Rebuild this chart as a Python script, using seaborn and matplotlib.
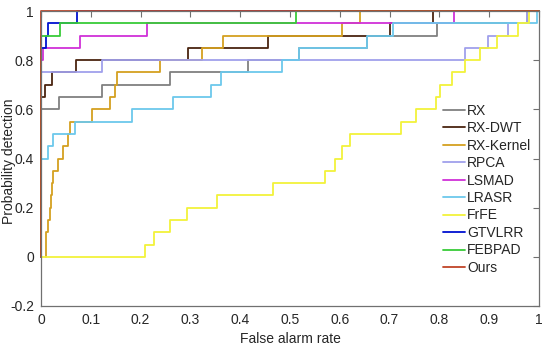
import matplotlib
matplotlib.use("Agg")
import matplotlib.pyplot as plt
import seaborn as sns

sns.set_style("white")
plt.rcParams['font.family'] = ['Liberation Sans', 'DejaVu Sans']

# ROC step curves: x = false alarm rate where each detection level starts
methods = ["RX", "RX-DWT", "RX-Kernel", "RPCA", "LSMAD", "LRASR", "FrFE", "GTVLRR", "FEBPAD", "Ours"]
colors = ["#808080", "#4a2410", "#d4a020", "#a0a0ec", "#d030d8", "#6cc8ec", "#f2f23a", "#0010d0", "#38cc38", "#c04428"]

rx_x = [0, 0, 0.036, 0.122, 0.259, 0.416, 0.518, 0.654, 0.795, 0.975, 1]
rx_y = [0, 0.6, 0.65, 0.7, 0.75, 0.8, 0.85, 0.9, 0.95, 1, 1]

dwt_x = [0, 0, 0.008, 0.023, 0.07, 0.296, 0.456, 0.70, 0.788, 1]
dwt_y = [0, 0.65, 0.7, 0.75, 0.8, 0.85, 0.9, 0.95, 1, 1]

kern_x = [0.011, 0.011, 0.015, 0.018, 0.02, 0.023, 0.025, 0.035, 0.045, 0.054, 0.058,
          0.102, 0.139, 0.149, 0.152, 0.238, 0.323, 0.366, 0.604, 0.64, 1]
kern_y = [0, 0.1, 0.15, 0.2, 0.25, 0.3, 0.35, 0.4, 0.45, 0.5, 0.55,
          0.6, 0.65, 0.7, 0.75, 0.8, 0.85, 0.9, 0.95, 1, 1]

rpca_x = [0, 0, 0.122, 0.851, 0.898, 0.938, 0.975, 1]
rpca_y = [0, 0.75, 0.8, 0.85, 0.9, 0.95, 1, 1]

lsmad_x = [0, 0, 0.005, 0.078, 0.212, 0.83, 1]
lsmad_y = [0, 0.8, 0.85, 0.9, 0.95, 1, 1]

lrasr_x = [0, 0, 0.015, 0.025, 0.068, 0.182, 0.266, 0.341, 0.361, 0.484, 0.518, 0.654, 0.707, 0.995, 1]
lrasr_y = [0, 0.4, 0.45, 0.5, 0.55, 0.6, 0.65, 0.7, 0.75, 0.8, 0.85, 0.9, 0.95, 1, 1]

frfe_x = [0, 0.209, 0.226, 0.259, 0.293, 0.353, 0.466, 0.57, 0.59, 0.604, 0.62,
          0.722, 0.754, 0.793, 0.801, 0.826, 0.851, 0.882, 0.915, 0.958, 0.98, 1]
frfe_y = [0, 0.05, 0.1, 0.15, 0.2, 0.25, 0.3, 0.35, 0.4, 0.45, 0.5,
          0.55, 0.6, 0.65, 0.7, 0.75, 0.8, 0.85, 0.9, 0.95, 1, 1]

gtv_x = [0, 0, 0.01, 0.015, 0.072, 1]
gtv_y = [0, 0.85, 0.9, 0.95, 1, 1]

feb_x = [0, 0, 0.038, 0.512, 1]
feb_y = [0, 0.9, 0.95, 1, 1]

ours_x = [0, 0, 1]
ours_y = [0, 1, 1]

curves = [(rx_x, rx_y), (dwt_x, dwt_y), (kern_x, kern_y), (rpca_x, rpca_y),
          (lsmad_x, lsmad_y), (lrasr_x, lrasr_y), (frfe_x, frfe_y),
          (gtv_x, gtv_y), (feb_x, feb_y), (ours_x, ours_y)]

xticks = [0, 0.1, 0.2, 0.3, 0.4, 0.5, 0.6, 0.7, 0.8, 0.9, 1]
xticklabels = ["0", "0.1", "0.2", "0.3", "0.4", "0.5", "0.6", "0.7", "0.8", "0.9", "1"]
yticks = [-0.2, 0, 0.2, 0.4, 0.6, 0.8, 1]
yticklabels = ["-0.2", "0", "0.2", "0.4", "0.6", "0.8", "1"]

fig = plt.figure(figsize=(5.5, 3.52), dpi=100)
ax = fig.add_axes([0.0745, 0.1307, 0.9055, 0.838])

for name, col, (cx, cy) in zip(methods, colors, curves):
    sns.lineplot(x=cx, y=cy, ax=ax, color=col, label=name, estimator=None, sort=False,
                 drawstyle='steps-post', linewidth=1.3, clip_on=False)

ax.set_xlim(0, 1)
ax.set_ylim(-0.2, 1)
ax.set_xticks(xticks)
ax.set_xticklabels(xticklabels)
ax.set_yticks(yticks)
ax.set_yticklabels(yticklabels)
ax.tick_params(direction='in', length=4, width=0.8, color='#707070', labelsize=10,
               labelcolor='#262626', top=True, right=True, pad=5)
for s in ax.spines.values():
    s.set_color('#707070')
    s.set_linewidth(0.9)

ax.set_xlabel("False alarm rate", fontsize=10, color='#262626', labelpad=4)
ax.set_ylabel("Probability detection", fontsize=10, color='#262626')
ax.yaxis.set_label_coords(-0.05, 0.49)

ax.legend(loc='upper left', bbox_to_anchor=(0.807, 0.686), frameon=False, fontsize=10,
          handlelength=1.6, handletextpad=0.15, labelspacing=0.25, borderpad=0,
          borderaxespad=0)

fig.savefig("out.png", dpi=100)
